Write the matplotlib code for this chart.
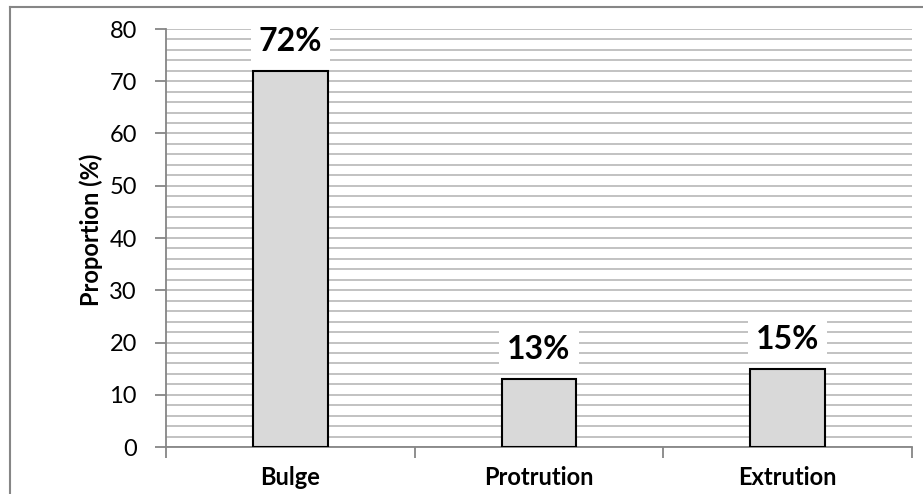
import matplotlib.pyplot as plt
from matplotlib.lines import Line2D

plt.rcParams['font.family'] = ['Lato', 'DejaVu Sans']

categories = ['Bulge', 'Protrution', 'Extrution']
values = [72, 13, 15]
labels = ['72%', '13%', '15%']

fig = plt.figure(figsize=(9.23, 4.94), dpi=100)
ax = fig.add_axes([166 / 923, 47 / 494, 746 / 923, 418 / 494])

x = list(range(len(categories)))
ax.bar(x, values, width=0.3, color='#d9d9d9', edgecolor='black', linewidth=1.5, zorder=3)

ax.set_xlim(-0.5, 2.5)
ax.set_ylim(0, 80)
ax.set_yticks(range(0, 81, 10))
ax.set_yticks(range(0, 81, 2), minor=True)
ax.yaxis.grid(True, which='both', color='#bdbdbd', linewidth=1.3, zorder=0)
ax.set_axisbelow(True)

ax.set_xticks([-0.5, 0.5, 1.5, 2.5])
ax.set_xticklabels([])
ax.tick_params(axis='x', which='major', length=8, width=1.3, color='#868686')
ax.tick_params(axis='y', which='major', length=8, width=1.3, color='#868686',
               labelsize=17, pad=13)
ax.tick_params(axis='y', which='minor', length=0)

for i, c in enumerate(categories):
    ax.annotate(c, xy=(i, 0), xytext=(0, -22), textcoords='offset points',
                ha='center', va='center', fontsize=17, fontweight='bold')

for i, (v, lab) in enumerate(zip(values, labels)):
    ax.annotate(lab, xy=(i, v), xytext=(0, 21), textcoords='offset points',
                ha='center', va='center', fontsize=23, fontweight='bold', zorder=5,
                bbox=dict(boxstyle='square,pad=0.25', fc='white', ec='none'))

for s in ['top', 'right']:
    ax.spines[s].set_visible(False)
for s in ['left', 'bottom']:
    ax.spines[s].set_color('#868686')
    ax.spines[s].set_linewidth(1.3)

ax.set_ylabel('Proportion (%)', fontsize=17, fontweight='bold')
ax.yaxis.set_label_coords(-0.0845, 0.519)

# chart area border (clipped by image edges)
fig.add_artist(Line2D([9.5 / 923, 9.5 / 923], [0, 1 - 7.5 / 494], color='#868686', lw=1.5))
fig.add_artist(Line2D([9.5 / 923, 1], [1 - 7.5 / 494, 1 - 7.5 / 494], color='#868686', lw=1.5))

fig.savefig('out.png', dpi=100)
